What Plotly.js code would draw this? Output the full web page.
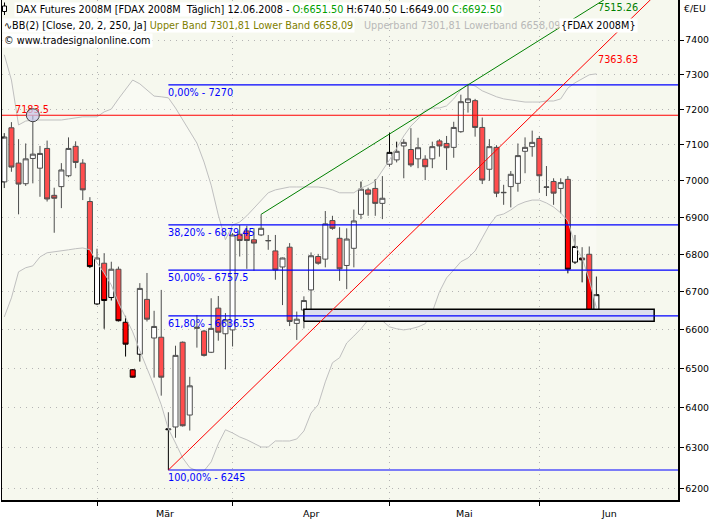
<!DOCTYPE html>
<html>
<head>
<meta charset="utf-8">
<script src="https://cdn.plot.ly/plotly-3.0.1.min.js"></script>
<style>html,body{margin:0;padding:0;background:#ffffff}#chart{width:720px;height:520px}</style>
</head>
<body>
<div id="chart"></div>
<script>
// ---------------- DATA ----------------
const openP = [6997,7148,7049,6992,7062,7035,7090,6960,6984,7014,7096,7049,6943,6668,6776,6685,6760,6620,6497,6537,6680,6579,6581,6345,6352,6568,6382,6604,6597,6542,6657,6590,6600,6854,6863,6839,6852,6836,6809,6766,6819,6617,6652,6705,6794,6787,6891,6843,6770,6816,6908,6975,6979,6938,7046,7058,7097,7087,7061,7060,7061,7111,7104,7093,7137,7220,7225,7149,7032,7093,6967,6984,6993,7082,7095,7118,6982,6998,6979,7004,6779,6790,6800,6651.5];
const highP = [7133,7164,7116,7104,7183.5,7097,7112,6981,7049,7121,7110,7060,6955,6815,6803,6780,6767,6637,6499,6723,6750,6650,6705,6389,6559,6570,6479,6639,6600,6683,6689,6644,6857,6879,6877,6870,6908,6852,6852,6791,6830,6648,6688,6805,6801,6917,6904,6873,6870,6921,6998,6981,7004,7013,7134,7109,7116,7147,7120,7071,7109,7116,7125,7165,7242,7270,7230,7177,7116,7099,6989,7027,7104,7121,7140,7125,7041,7007,7007,7013,6852,6819,6821,6740.5];
const lowP = [6980,7025,6908,6986,6993,6956,6943,6858,6925,7010,7035,6947,6763,6665,6603,6677,6622,6531,6477,6518,6622,6477,6431,6245,6325,6353,6343,6554,6531,6540,6572,6498,6557,6794,6761,6756,6849,6812,6732,6665,6610,6574,6604,6654,6772,6765,6866,6729,6707,6765,6895,6904,6904,6895,7039,7051,7007,7038,7035,7002,7035,7067,7030,7064,7134,7191,7123,6991,7000,6955,6934,6927,6970,7021,7067,6967,6958,6934,6911,6749,6774,6725,6638,6649];
const closeP = [7122,7038,6991,7061,7074,7076,6950,6952,7030,7090,7051,6975,6767,6790,6677,6760,6624,6563,6478,6709,6628,6609,6478,6347,6534,6355,6456,6607,6534,6604,6594,6626,6852,6837,6837,6830,6870,6837,6758,6790,6622,6628,6677,6796,6776,6882,6870,6761,6841,6890,6977,6963,6938,6952,7079,7082,7107,7044,7092,7039,7095,7097,7092,7149,7222,7230,7149,7002,7095,6966,6968,7018,7070,7093,7107,7014,6983,6966,6995,6760,6821,6785,6643,6692.5];
const upperBand = [7357,7284,7156,7167,7170,7170,7170,7170,7170,7173,7176,7179,7179,7179,7193,7201,7230,7258,7284,7273,7256,7238,7236,7233,7204,7170,7139,7105,7052,6988,6906,6839,6879,6887,6904,6925,6947,6967,6975,6980,6983,6983,6983,6983,6983,6980,6975,6967,6967,6967,6980,6988,6999,7027,7058,7091,7125,7153,7173,7198,7204,7204,7210,7230,7256,7273,7267,7253,7244,7236,7230,7227,7224,7221,7221,7221,7224,7224,7230,7261,7276,7287,7299,7301.81];
const lowerBand = [6634,6684,6753,6764,6769,6793,6804,6806,6809,6812,6815,6817,6812,6777,6750,6718,6671,6631,6595,6546,6502,6456,6408,6347,6312,6275,6251,6243,6243,6265,6310,6345,6337,6327,6320,6310,6302,6302,6317,6317,6317,6322,6342,6387,6408,6466,6515,6528,6566,6584,6603,6626,6626,6624,6608,6603,6600,6603,6608,6616,6647,6700,6737,6758,6780,6790,6809,6844,6879,6904,6909,6920,6934,6942,6947,6947,6939,6928,6912,6890,6825,6790,6732,6658.09];

const monthNames = ['Mär', 'Apr', 'Mai', 'Jun'];
const monthStartBar = [14, 33, 55, 76];
const yTicks = [6200, 6300, 6400, 6500, 6600, 6700, 6800, 6900, 7000, 7100, 7200, 7300, 7400];

const fibPct = ['0,00%', '38,20%', '50,00%', '61,80%', '100,00%'];
const fibLevel = [7270, 6879.45, 6757.5, 6636.55, 6245];
const fibStartBar = 24;

const resistanceLevel = 7183.5;
const resistanceMarkBar = 5;

const greenTrendBars = [37, 66];
const greenTrendPrices = [6908, 7270];
const greenTrendLabel = '7515.26';
const redTrendBars = [24, 84];
const redTrendPrices = [6245, 7363.63];
const redTrendLabel = '7363.63';

const zoneBars = [43, 92.1];
const zonePrices = [6622.5, 6654];

const headerRow1 = 'DAX Futures 2008M [FDAX 2008M\u00a0\u00a0Täglich] 12.06.2008 - ';
const headerO = 'O:6651.50';
const headerHL = ' H:6740.50 L:6649.00 ';
const headerC = 'C:6692.50';
const headerRow2a = '\u223fBB(2) [Close, 20, 2, 250, Ja] ';
const headerRow2b = 'Upper Band 7301,81 Lower Band 6658,09';
const headerRow2c = 'Upperband 7301,81 Lowerband 6658,09';
const headerRow2d = '{FDAX 2008M}';
const headerRow3 = '\u00a9 www.tradesignalonline.com';
const currencyLabel = '\u20ac/EU';

// ---------------- LAYOUT CONSTANTS ----------------
const X_RANGE = [0.678, 95.44];
const Y_RANGE = [3.790394, 3.876087];
const PLOT_W = 676, PLOT_H = 500, PLOT_L = 2;
const FONT = 'DejaVu Sans, Verdana, sans-serif';
const TXT = 9.7;
const pxX = px => (px - PLOT_L) / PLOT_W;
const pxY = py => 1 - py / PLOT_H;
const pxPerDecade = PLOT_H / (Y_RANGE[1] - Y_RANGE[0]);
const shiftDown = px => Math.pow(10, -px / pxPerDecade);

const bars = openP.map((_, i) => i + 1);

function ray(b, p, bEnd) {
  const slope = Math.log(p[1] / p[0]) / (b[1] - b[0]);
  return {x: [b[0], bEnd], y: [p[0], p[0] * Math.exp(slope * (bEnd - b[0]))]};
}

const traces = [];
// Bollinger band fill + lines
traces.push({type: 'scatter', mode: 'lines', x: bars, y: lowerBand,
  line: {color: '#c0c0c0', width: 1}, hoverinfo: 'skip'});
traces.push({type: 'scatter', mode: 'lines', x: bars, y: upperBand, fill: 'tonexty',
  fillcolor: 'rgba(255,255,255,0.30)', line: {color: '#c0c0c0', width: 1}, hoverinfo: 'skip'});

// support zone rectangle
traces.push({type: 'scatter', mode: 'lines',
  x: [zoneBars[0], zoneBars[1], zoneBars[1], zoneBars[0], zoneBars[0]],
  y: [zonePrices[0], zonePrices[0], zonePrices[1], zonePrices[1], zonePrices[0]],
  fill: 'toself', fillcolor: '#dcdfee', line: {color: '#000000', width: 1.5}, hoverinfo: 'skip'});

// fib labels (under candles)
traces.push({type: 'scatter', mode: 'text', x: fibLevel.map(() => fibStartBar - 0.05),
  y: fibLevel.map(v => v * shiftDown(4)),
  text: fibLevel.map((v, i) => fibPct[i] + ' - ' + String(v)),
  textposition: 'bottom right', textfont: {family: FONT, size: TXT, color: '#0000ff'},
  cliponaxis: false, hoverinfo: 'skip'});
// resistance label
traces.push({type: 'scatter', mode: 'text', x: [2.5], y: [resistanceLevel],
  text: [String(resistanceLevel)], textposition: 'top right',
  textfont: {family: FONT, size: TXT, color: '#ff0000'}, cliponaxis: false, hoverinfo: 'skip'});

// candles
traces.push({type: 'candlestick', x: bars, open: openP, high: highP, low: lowP, close: closeP,
  increasing: {line: {color: '#000000', width: 1}, fillcolor: '#ffffff'},
  decreasing: {line: {color: '#000000', width: 1}, fillcolor: '#ff0000'},
  whiskerwidth: 0, hoverinfo: 'skip'});

// fib lines
fibLevel.forEach(v => traces.push({type: 'scatter', mode: 'lines', x: [fibStartBar, X_RANGE[1] + 2], y: [v, v],
  line: {color: '#0000ff', width: 1.2}, hoverinfo: 'skip'}));
// resistance line
traces.push({type: 'scatter', mode: 'lines', x: [X_RANGE[0] - 2, X_RANGE[1] + 2], y: [resistanceLevel, resistanceLevel],
  line: {color: '#ff0000', width: 1.2}, hoverinfo: 'skip'});
// trend lines
const gRay = ray(greenTrendBars, greenTrendPrices, X_RANGE[1] + 2);
traces.push({type: 'scatter', mode: 'lines', x: gRay.x, y: gRay.y, line: {color: '#008000', width: 1}, hoverinfo: 'skip'});
const rRay = ray(redTrendBars, redTrendPrices, X_RANGE[1] + 2);
traces.push({type: 'scatter', mode: 'lines', x: rRay.x, y: rRay.y, line: {color: '#ff0000', width: 1}, hoverinfo: 'skip'});
// circle marker on high
traces.push({type: 'scatter', mode: 'markers', x: [resistanceMarkBar], y: [resistanceLevel],
  marker: {size: 13, color: 'rgba(200,200,235,0.75)', line: {color: '#404040', width: 1}}, hoverinfo: 'skip'});

// ---------------- ANNOTATIONS ----------------
const ann = [];
const hdr = (x, y, text, opts) => Object.assign({xref: 'paper', yref: 'paper', x: pxX(x), y: pxY(y),
  xanchor: 'left', yanchor: 'middle', showarrow: false, text: text,
  font: {family: FONT, size: TXT, color: '#000000'}, borderpad: 1}, opts || {});
ann.push(hdr(14, 9, headerRow1 + '<span style="color:#00a000">' + headerO + '</span>' + headerHL +
  '<span style="color:#00a000">' + headerC + '</span>', {bgcolor: '#ffffff'}));
ann.push(hdr(2, 25, headerRow2a + '<span style="color:#808000">' + headerRow2b + '</span>', {bgcolor: '#ffffff'}));
ann.push(hdr(362, 25, headerRow2c, {font: {family: FONT, size: TXT, color: '#b8b8b8'}}));
ann.push(hdr(559, 25, headerRow2d, {bgcolor: '#ffffff'}));
ann.push(hdr(2, 41, headerRow3, {bgcolor: '#ffffff'}));
ann.push(hdr(683, 8, currencyLabel, {font: {family: FONT, size: 9.3, color: '#000000'}, borderpad: 0}));
ann.push({xref: 'x', yref: 'paper', x: greenTrendBars[1] + (84 - greenTrendBars[1]), y: pxY(7.5), xanchor: 'left', yanchor: 'middle',
  showarrow: false, text: greenTrendLabel, font: {family: FONT, size: TXT, color: '#008000'}});
ann.push({xref: 'x', yref: 'paper', x: redTrendBars[1], y: pxY(59.5), xanchor: 'left', yanchor: 'middle',
  showarrow: false, text: redTrendLabel, font: {family: FONT, size: TXT, color: '#ff0000'}});
monthNames.forEach((m, i) => {
  const a = monthStartBar[i];
  const b = i + 1 < monthStartBar.length ? monthStartBar[i + 1] : X_RANGE[1];
  ann.push({xref: 'x', yref: 'paper', x: (a + b) / 2, y: pxY(513), xanchor: 'center', yanchor: 'middle',
    showarrow: false, text: m, font: {family: FONT, size: 9.5, color: '#000000'}});
});

// header candle icon
const shapes = [
  {type: 'line', xref: 'paper', yref: 'paper', x0: pxX(4.5), x1: pxX(4.5), y0: pxY(2.5), y1: pxY(15), line: {color: '#000', width: 1}},
  {type: 'rect', xref: 'paper', yref: 'paper', x0: pxX(2.5), x1: pxX(6.5), y0: pxY(6), y1: pxY(11.5), fillcolor: '#ffffff', line: {color: '#000', width: 1}}
];

const grid = {gridcolor: '#b4b4b4', griddash: '1px,5px', gridwidth: 1};
const layout = {
  width: 720, height: 520,
  margin: {l: PLOT_L, r: 720 - PLOT_L - PLOT_W, t: 0, b: 20, pad: 0},
  paper_bgcolor: '#ffffff', plot_bgcolor: '#f6f8ee',
  showlegend: false, hovermode: false,
  font: {family: FONT, size: 9.3, color: '#000000'},
  boxgap: 0.3, boxgroupgap: 0,
  xaxis: Object.assign({type: 'linear', range: X_RANGE, fixedrange: true, rangeslider: {visible: false},
    tickmode: 'array', tickvals: monthStartBar, showticklabels: false,
    ticks: 'outside', ticklen: 4, tickcolor: '#000', tickwidth: 1,
    showgrid: true, showline: true, linecolor: '#000', linewidth: 1.5, mirror: true, zeroline: false}, grid),
  yaxis: Object.assign({type: 'log', range: Y_RANGE, side: 'right', fixedrange: true,
    tickmode: 'array', tickvals: yTicks, ticktext: yTicks.map(String),
    ticks: 'outside', ticklen: 4, tickcolor: '#000', tickwidth: 1,
    tickfont: {family: FONT, size: 9.3, color: '#000'},
    showgrid: true, showline: true, linecolor: '#000', linewidth: 1.5, mirror: true, zeroline: false}, grid),
  annotations: ann,
  shapes: shapes
};

Plotly.newPlot('chart', traces, layout, {staticPlot: true, displayModeBar: false});
</script>
</body>
</html>
